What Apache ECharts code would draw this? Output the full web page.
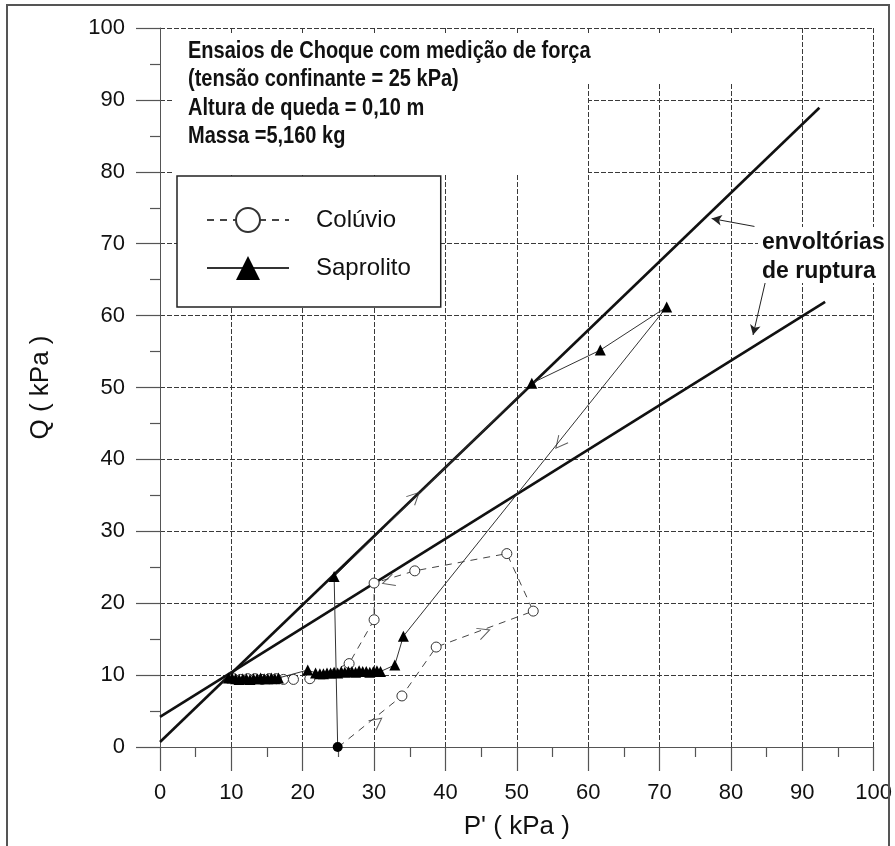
<!DOCTYPE html>
<html>
<head>
<meta charset="utf-8">
<title>Ensaios de Choque</title>
<script src="https://cdn.jsdelivr.net/npm/echarts@6/dist/echarts.min.js"></script>
<style>
  body { margin: 0; background: #fff; }
  #chart { width: 895px; height: 846px; }
</style>
</head>
<body>
<div id="chart"></div>
<script>
// envoltorias de ruptura (P', Q)
var envSteepP = [0, 92.4]
var envSteepQ = [0.7, 88.9]
var envLowP = [0, 93.2]
var envLowQ = [4.2, 61.9]

// Saprolito: trajetoria com triangulos
var saproP = [24.9, 24.4, 52.1, 61.7, 71.0, 34.1, 32.9, 30.9, 30.4, 29.9, 29.4, 28.9, 28.4, 27.9, 27.4, 26.9, 26.4, 25.9, 25.4, 24.9, 24.4, 23.9, 23.4, 22.9, 22.4, 21.8, 20.7, 16.6, 16.1, 15.6, 15.1, 14.6, 14.1, 13.6, 13.1, 12.6, 12.1, 11.6, 11.1, 10.6, 10.1, 9.6]
var saproQ = [0, 23.7, 50.6, 55.2, 61.2, 15.4, 11.4, 10.5, 10.6, 10.5, 10.4, 10.5, 10.5, 10.6, 10.4, 10.5, 10.5, 10.4, 10.5, 10.3, 10.4, 10.3, 10.3, 10.2, 10.2, 10.3, 10.7, 9.6, 9.5, 9.6, 9.5, 9.5, 9.6, 9.5, 9.5, 9.4, 9.5, 9.5, 9.4, 9.5, 9.6, 9.6]

// Coluvio: trajetoria com circulos
var coluP = [25.0, 33.9, 38.7, 52.3, 48.6, 35.7, 30.0, 30.0, 26.5, 21.0, 18.7, 17.3, 16.3, 15.3, 14.3, 13.3, 12.3, 11.3, 10.3]
var coluQ = [0, 7.1, 13.9, 18.9, 26.9, 24.5, 22.8, 17.7, 11.6, 9.5, 9.4, 9.4, 9.5, 9.5, 9.4, 9.5, 9.5, 9.4, 9.5]

// setas de sentido nas trajetorias
var arrowP = [35.7, 56.0, 30.4, 45.4, 32.0]
var arrowQ = [34.8, 42.2, 3.5, 16.0, 23.0]
var arrowAngle = [44, 231, 38, 20, 197]

var axisTicks = [0, 10, 20, 30, 40, 50, 60, 70, 80, 90, 100]

var pairs = function(xs, ys) {
    return xs.map(function(x, i) { return [x, ys[i]] })
}

var font = 'Liberation Sans, Arial, sans-serif'
var gridLine = { color: '#3a3a3a', width: 1, type: [5, 2] }

var axisBase = function() {
    return {
        type: 'value',
        min: axisTicks[0],
        max: axisTicks[axisTicks.length - 1],
        interval: 10,
        axisLine: { show: true, lineStyle: { color: '#555', width: 1 } },
        axisTick: { show: true, length: 24, lineStyle: { color: '#555', width: 1.2 } },
        minorTick: { show: true, splitNumber: 2, length: 10, lineStyle: { color: '#555', width: 1.2 } },
        splitLine: { show: true, lineStyle: gridLine },
        axisLabel: { color: '#111', fontSize: 22, fontFamily: font },
        nameTextStyle: { color: '#111', fontSize: 26, fontFamily: font }
    }
}

var xAxis = axisBase()
xAxis.name = "P' ( kPa )"
xAxis.nameLocation = 'middle'
xAxis.nameGap = 67
xAxis.axisLabel.margin = 35

var yAxis = axisBase()
yAxis.name = 'Q ( kPa )'
yAxis.nameLocation = 'middle'
yAxis.nameGap = 106
yAxis.axisLabel.margin = 35

var coluData = pairs(coluP, coluQ).map(function(p, i) {
    return i === 0 ? { value: p, symbol: 'none' } : p
})
var saproData = pairs(saproP, saproQ).map(function(p, i) {
    return i === 0 ? { value: p, symbol: 'circle', symbolSize: 10 } : p
})

var myChart = echarts.init(document.getElementById('chart'))
var option = {
    backgroundColor: '#fff',
    animation: false,
    grid: { left: 160, right: 13, top: 28, bottom: 99 },
    xAxis: xAxis,
    yAxis: yAxis,
    legend: {
        data: ['Colúvio', 'Saprolito'],
        orient: 'vertical',
        left: 177,
        top: 176,
        padding: [31, 30, 27, 29],
        itemGap: 23,
        itemWidth: 82,
        itemHeight: 30,
        backgroundColor: '#fff',
        borderColor: '#222',
        borderWidth: 1.5,
        textStyle: { color: '#111', fontSize: 24, fontFamily: font, padding: [0, 0, 0, 22] }
    },
    graphic: [
        {
            type: 'rect', silent: true, z: 50,
            shape: { x: 7, y: 5, width: 882, height: 900 },
            style: { fill: 'none', stroke: '#555', lineWidth: 2 }
        },
        {
            type: 'rect', silent: true, z: 40,
            shape: { x: 172, y: 33, width: 598, height: 49 },
            style: { fill: '#fff' }
        },
        {
            type: 'rect', silent: true, z: 40,
            shape: { x: 172, y: 82, width: 416, height: 92 },
            style: { fill: '#fff' }
        },
        {
            type: 'text', z: 41, x: 188, y: 37, scaleX: 0.87,
            style: {
                text: 'Ensaios de Choque com medição de força\n(tensão confinante = 25 kPa)\nAltura de queda = 0,10 m\nMassa =5,160 kg',
                fill: '#111', font: 'bold 23px ' + font, lineHeight: 28.5
            }
        },
        {
            type: 'rect', silent: true, z: 40,
            shape: { x: 758, y: 227, width: 131, height: 56 },
            style: { fill: '#fff' }
        },
        {
            type: 'text', z: 41, x: 762, y: 228,
            style: {
                text: 'envoltórias\nde ruptura',
                fill: '#111', font: 'bold 23px ' + font, lineHeight: 29
            }
        }
    ],
    series: [
        {
            name: 'envSteep', type: 'line', z: 3, symbol: 'none',
            data: pairs(envSteepP, envSteepQ),
            lineStyle: { color: '#111', width: 2.6 },
            markLine: {
                silent: true, symbol: ['none', 'arrow'], symbolSize: [8, 10],
                label: { show: false },
                lineStyle: { color: '#222', width: 1, type: 'solid' },
                data: [
                    [{ coord: [83.3, 72.4] }, { coord: [77.3, 73.5] }],
                    [{ coord: [84.9, 65.0] }, { coord: [83.1, 57.3] }]
                ]
            }
        },
        {
            name: 'envLow', type: 'line', z: 3, symbol: 'none',
            data: pairs(envLowP, envLowQ),
            lineStyle: { color: '#111', width: 2.6 }
        },
        {
            name: 'Colúvio', type: 'line', z: 4,
            data: coluData,
            symbol: 'circle', symbolSize: 10, showAllSymbol: true,
            lineStyle: { color: '#444', width: 1, type: [7, 6] },
            itemStyle: { color: '#fff', borderColor: '#333', borderWidth: 1 }
        },
        {
            name: 'Saprolito', type: 'line', z: 5,
            data: saproData,
            symbol: 'triangle', symbolSize: 11, showAllSymbol: true,
            lineStyle: { color: '#333', width: 1 },
            itemStyle: { color: '#000' }
        },
        {
            name: 'setas', type: 'scatter', z: 6,
            symbol: 'path://M0,0L10,5L0,10',
            symbolSize: [12, 12],
            data: arrowP.map(function(p, i) {
                return { value: [p, arrowQ[i]], symbolRotate: arrowAngle[i] }
            }),
            itemStyle: { color: 'none', borderColor: '#333', borderWidth: 1 }
        }
    ]
}
myChart.setOption(option)
</script>
</body>
</html>
